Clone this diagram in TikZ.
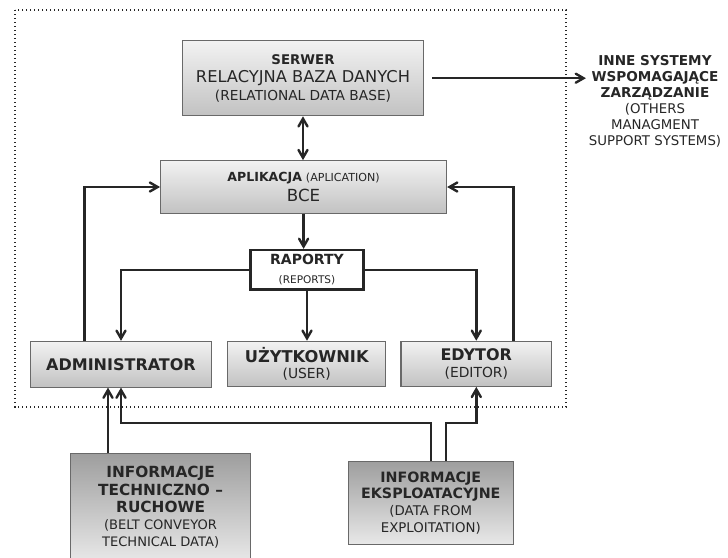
\documentclass[tikz,border=0pt]{standalone}
\usepackage{fontspec}
\setmainfont{DejaVu Sans}
\usepackage{tikz}
\usetikzlibrary{arrows,calc}

\definecolor{boxline}{RGB}{105,105,105}
\definecolor{ink}{RGB}{38,38,38}
\newcommand{\fsz}[2]{\fontsize{#1}{#2}\selectfont}

\tikzset{
  box/.style={draw=boxline, line width=0.8pt, top color=black!5, bottom color=black!24,
    text=ink, align=center, inner sep=0pt},
  infobox/.style={box, top color=black!38, bottom color=black!9},
  arr/.style={-angle 60, line width=1.8pt, draw=ink},
  dblarr/.style={angle 60-angle 60, line width=1.8pt, draw=ink},
}

\begin{document}
\begin{tikzpicture}[x=0.75pt,y=0.75pt,yscale=-1,xscale=1]
\useasboundingbox (0,0) rectangle (728,557);
\clip (0,0) rectangle (728,557);

%Shape: Rectangle [frame]
\draw[dotted, line width=1pt, ink] (15,10) rectangle (566,407);

%Shape: Rectangle [serwer]
\node[box, minimum width=180.8pt, minimum height=56.3pt, font=\fsz{10}{13.4}] (serwer) at (303,78.2)
  {{\bfseries SERWER}\\{\fsz{12.2}{13.4}RELACYJNA BAZA DANYCH}\\{\fsz{10.3}{13.4}(RELATIONAL DATA BASE)}};
%Shape: Rectangle [aplikacja]
\node[box, minimum width=214.5pt, minimum height=39.5pt, font=\fsz{9.4}{14.5}] (aplikacja) at (303.6,187)
  {{\bfseries APLIKACJA} {\fsz{8.3}{14.5}(APLICATION)}\\{\fsz{12.5}{14.5}BCE}};
%Shape: Rectangle [raporty]
\node[draw=ink, line width=1.9pt, fill=white, text=ink, align=center, inner sep=0pt,
  minimum width=84.8pt, minimum height=29.3pt, font=\fsz{10.5}{14}] (raporty) at (307,269.7)
  {{\bfseries RAPORTY}\\{\fsz{7.9}{14}(REPORTS)}};
%Shape: Rectangle [administrator]
\node[box, minimum width=135.5pt, minimum height=34.3pt, font=\fsz{12}{12.5}\bfseries] (admin) at (121,364.2)
  {ADMINISTRATOR};
%Shape: Rectangle [uzytkownik]
\node[box, minimum width=118.7pt, minimum height=33.8pt, font=\fsz{12.2}{12.5}] (uzyt) at (306.7,363.8)
  {{\bfseries UŻYTKOWNIK}\\{\fsz{10.4}{12.5}(USER)}};
%Shape: Rectangle [edytor]
\node[box, minimum width=113pt, minimum height=33.8pt, font=\fsz{12}{12.5}] (edytor) at (476.3,363.8)
  {{\bfseries EDYTOR}\\{\fsz{10.4}{12.5}(EDITOR)}};
%Shape: Rectangle [info techniczno]
\node[infobox, minimum width=135pt, minimum height=80.7pt, font=\fsz{11.5}{12.9}] (infotech) at (160.6,507.5)
  {{\bfseries INFORMACJE}\\{\bfseries TECHNICZNO –}\\{\bfseries RUCHOWE}\\
   {\fsz{9.8}{12.9}(BELT CONVEYOR}\\{\fsz{9.8}{12.9}TECHNICAL DATA)}};
%Shape: Rectangle [info eksploatacyjne]
\node[infobox, minimum width=124.1pt, minimum height=62.3pt, font=\fsz{10.7}{12.4}] (infoeksp) at (430.8,502.8)
  {{\bfseries INFORMACJE}\\{\bfseries EKSPLOATACYJNE}\\
   {\fsz{10}{12.4}(DATA FROM}\\{\fsz{10}{12.4}EXPLOITATION)}};

% Text Node
\node[text=ink, align=center, inner sep=2pt, font=\fsz{10.2}{12}] (inne) at (655,101.7)
  {{\bfseries INNE SYSTEMY}\\{\bfseries WSPOMAGAJĄCE}\\{\bfseries ZARZĄDZANIE}\\
   {\fsz{10}{12}(OTHERS}\\{\fsz{10}{12}MANAGMENT}\\{\fsz{10}{12}SUPPORT SYSTEMS)}};

%Straight Lines
\draw[arr, shorten <=6pt] (serwer.east) -- (serwer.east -| inne.west);
\draw[dblarr] (serwer.south) -- (serwer.south |- aplikacja.north);
\draw[arr] (aplikacja.south) -- (aplikacja.south |- raporty.north);
\draw[arr] (raporty.south) -- (raporty.south |- uzyt.north);
\draw[arr] (raporty.west) -| (admin.north);
\draw[arr] (raporty.east) -| (edytor.north);
\draw[arr] ($(admin.north)+(-36.5,0)$) |- (aplikacja.west);
\draw[arr] ($(edytor.north)+(37.2,0)$) |- (aplikacja.east);

%Straight Lines [inputs]
\draw[arr] ($(infotech.north)+(-52.6,0)$) -- ($(admin.south)+(-13,0)$);
\draw[arr] (infoeksp.north) -- ++(0,-38) -| (admin.south);
\draw[arr] ($(infoeksp.north)+(15.4,0)$) -- ++(0,-38) -| (edytor.south);

\end{tikzpicture}
\end{document}
